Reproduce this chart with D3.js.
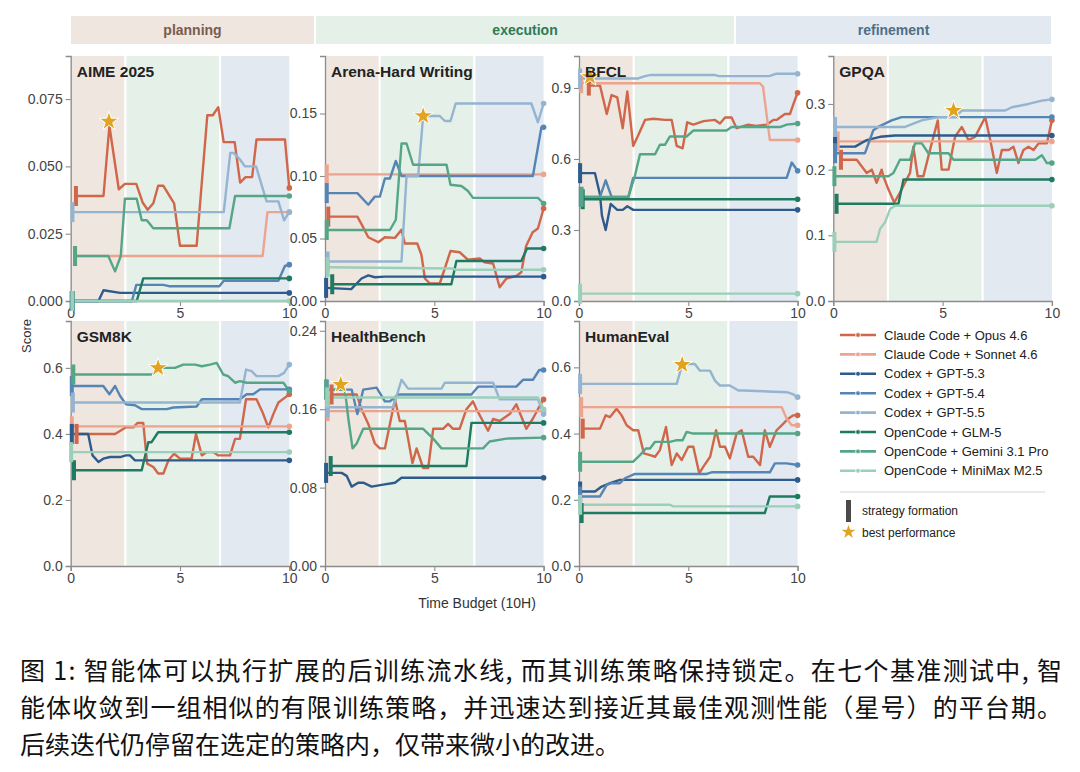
<!DOCTYPE html>
<html>
<head>
<meta charset="utf-8">
<script src="https://cdn.jsdelivr.net/npm/d3@7"></script>
<style>
  body { margin: 0; background: #fff; }
  svg { display: block; font-family: "Liberation Sans", Arial, sans-serif; }
</style>
</head>
<body>
<div id="chart"></div>
<script>
// ---- data ----
var seriesNames = ["Claude Code + Opus 4.6", "Claude Code + Sonnet 4.6", "Codex + GPT-5.3", "Codex + GPT-5.4",
  "Codex + GPT-5.5", "OpenCode + GLM-5", "OpenCode + Gemini 3.1 Pro", "OpenCode + MiniMax M2.5"];
var benchmarks = ["AIME 2025", "Arena-Hard Writing", "BFCL", "GPQA", "GSM8K", "HealthBench", "HumanEval"];
var phaseNames = ["planning", "execution", "refinement"];
var phaseBounds = [0, 2.5, 6.83, 10];
var xTicks = [0, 5, 10];
var yTicks = [[0, 0.025, 0.05, 0.075], [0, 0.05, 0.10, 0.15], [0, 0.3, 0.6, 0.9], [0, 0.1, 0.2, 0.3],
  [0, 0.2, 0.4, 0.6], [0, 0.08, 0.16, 0.24], [0, 0.2, 0.4, 0.6]];
var yMax = [0.091, 0.196, 1.035, 0.373, 0.742, 0.25, 0.74];
var bestX = [1.75, 4.49, 0.5, 5.5, 4.0, 0.72, 4.72];
var bestY = [0.0667, 0.148, 0.947, 0.29, 0.60, 0.185, 0.608];

// each benchmark: one point list per series, in seriesNames order; first point = strategy formation
var aime = [
  [[0.24,0.039],[1.5,0.039],[1.77,0.065],[2.2,0.0415],[2.48,0.0435],[3.0,0.0435],[3.29,0.0366],[3.52,0.0339],[3.78,0.0363],[4.0,0.0428],[4.24,0.0428],[4.73,0.0363],[5.0,0.0205],[5.76,0.0205],[6.25,0.069],[6.5,0.069],[6.75,0.072],[7.0,0.059],[7.5,0.059],[7.75,0.044],[8.0,0.046],[8.3,0.046],[8.5,0.060],[9.8,0.060],[10,0.042]],
  [[0.2,0.0167],[8.78,0.0167],[9.0,0.033],[10,0.033]],
  [[0.05,0],[1.27,0],[1.5,0.004],[2.26,0.003],[10,0.003]],
  [[0.05,0],[2.8,0],[3.0,0.006],[4.24,0.006],[4.5,0.0055],[6.8,0.0055],[7.0,0.0075],[9.5,0.0075],[9.8,0.013],[10,0.0135]],
  [[0.08,0.033],[7.0,0.033],[7.3,0.055],[7.45,0.055],[7.7,0.053],[7.97,0.050],[8.48,0.050],[8.96,0.037],[9.5,0.037],[9.76,0.030],[10,0.033]],
  [[0.1,0],[3.02,0],[3.32,0.0084],[10,0.0084]],
  [[0.2,0.0167],[1.72,0.0167],[2.03,0.011],[2.29,0.0167],[2.48,0.038],[3.02,0.038],[3.25,0.030],[3.48,0.030],[3.78,0.027],[7.26,0.027],[7.52,0.039],[10,0.039]],
  [[0.08,0],[10,0]]
];
var arena = [
  [[0.15,0.0675],[1.48,0.0675],[1.67,0.0615],[1.98,0.051],[2.44,0.047],[2.74,0.051],[3.2,0.0505],[3.5,0.057],[3.65,0.046],[4.22,0.046],[4.41,0.037],[4.57,0.018],[4.8,0.014],[5.25,0.014],[5.48,0.026],[5.74,0.040],[6.16,0.039],[6.54,0.033],[7.08,0.034],[7.3,0.031],[7.69,0.030],[7.99,0.011],[8.3,0.018],[8.75,0.020],[8.98,0.023],[9.2,0.044],[9.5,0.055],[9.74,0.058],[10,0.074]],
  [[0.08,0.1013],[10,0.1013]],
  [[0.05,0.0105],[1.2,0.0095],[1.67,0.018],[1.98,0.0205],[2.28,0.019],[2.74,0.0195],[10,0.0195]],
  [[0.08,0.0863],[1.48,0.0863],[1.98,0.077],[2.28,0.0835],[2.51,0.0835],[2.74,0.098],[2.97,0.098],[3.24,0.112],[3.5,0.100],[9.51,0.100],[9.9,0.139],[10,0.139]],
  [[0.12,0.0316],[3.5,0.0316],[3.73,0.100],[4.26,0.100],[4.49,0.148],[5.25,0.148],[5.48,0.144],[5.74,0.144],[5.98,0.158],[9.44,0.158],[9.74,0.143],[10,0.158]],
  [[0.33,0.0134],[5.78,0.0134],[6.01,0.032],[8.98,0.032],[9.24,0.042],[10,0.042]],
  [[0.08,0.0568],[2.97,0.0568],[3.24,0.065],[3.5,0.126],[3.73,0.126],[4.03,0.109],[5.56,0.109],[5.74,0.093],[6.24,0.092],[6.54,0.088],[6.77,0.0825],[9.74,0.0825],[10,0.078]],
  [[0.12,0.027],[5.8,0.026],[6.0,0.025],[10,0.025]]
];
var bfcl = [
  [[0.45,0.91],[0.96,0.91],[1.27,0.79],[1.49,0.87],[1.75,0.86],[2.0,0.73],[2.21,0.885],[2.48,0.655],[2.71,0.70],[3.02,0.765],[3.4,0.77],[3.93,0.765],[4.24,0.765],[4.47,0.655],[4.74,0.645],[4.95,0.755],[5.23,0.745],[5.7,0.76],[6.22,0.765],[6.45,0.75],[6.68,0.775],[6.98,0.775],[7.21,0.73],[7.74,0.745],[8.1,0.74],[8.58,0.745],[8.89,0.765],[9.04,0.765],[9.42,0.79],[9.65,0.79],[9.8,0.83],[10,0.88]],
  [[0.1,0.92],[8.27,0.92],[8.42,0.905],[8.73,0.68],[10,0.68]],
  [[0.05,0.54],[0.73,0.54],[0.96,0.45],[1.05,0.36],[1.22,0.30],[1.45,0.41],[1.75,0.385],[2.0,0.385],[2.21,0.40],[2.48,0.385],[10,0.385]],
  [[0.08,0.44],[0.96,0.44],[1.22,0.51],[1.49,0.44],[2.26,0.44],[2.48,0.52],[9.5,0.52],[9.73,0.585],[10,0.55]],
  [[0.05,0.94],[2.71,0.94],[3.02,0.95],[3.3,0.955],[6.2,0.955],[6.4,0.95],[8.7,0.95],[9.0,0.96],[10,0.96]],
  [[0.17,0.43],[10,0.43]],
  [[0.12,0.44],[2.26,0.44],[2.56,0.53],[2.79,0.62],[3.48,0.62],[3.7,0.66],[3.93,0.66],[4.16,0.695],[4.92,0.695],[5.23,0.72],[6.75,0.72],[6.98,0.735],[9.2,0.735],[9.5,0.745],[10,0.75]],
  [[0.05,0.031],[10,0.031]]
];
var gpqa = [
  [[0.35,0.215],[1.07,0.215],[1.53,0.195],[1.76,0.20],[1.98,0.18],[2.21,0.20],[2.29,0.19],[2.52,0.17],[2.79,0.15],[3.05,0.165],[3.28,0.18],[3.51,0.195],[3.66,0.235],[3.86,0.19],[4.12,0.19],[4.5,0.24],[4.78,0.275],[4.96,0.20],[5.27,0.20],[5.57,0.25],[5.88,0.265],[6.18,0.245],[6.49,0.25],[6.95,0.28],[7.18,0.245],[7.48,0.195],[7.71,0.23],[8.02,0.23],[8.24,0.235],[8.47,0.21],[8.7,0.23],[8.93,0.235],[9.16,0.23],[9.39,0.24],[9.77,0.24],[10,0.275]],
  [[0.2,0.243],[10,0.243]],
  [[0.08,0.235],[1.0,0.235],[1.53,0.245],[2.14,0.25],[2.82,0.252],[10,0.252]],
  [[0.08,0.225],[1.45,0.225],[1.83,0.26],[2.06,0.265],[2.67,0.275],[3.13,0.28],[10,0.28]],
  [[0.08,0.265],[2.52,0.265],[3.28,0.265],[3.66,0.27],[4.05,0.275],[4.8,0.28],[5.57,0.28],[5.88,0.29],[7.86,0.29],[8.17,0.295],[8.93,0.30],[9.54,0.305],[10,0.307]],
  [[0.15,0.148],[2.98,0.148],[3.21,0.185],[10,0.185]],
  [[0.05,0.19],[2.52,0.19],[2.75,0.195],[3.05,0.215],[3.51,0.215],[3.74,0.24],[4.05,0.24],[4.35,0.225],[5.27,0.225],[5.5,0.215],[9.24,0.215],[9.54,0.222],[9.77,0.21],[10,0.21]],
  [[0.05,0.09],[1.98,0.09],[2.14,0.11],[2.37,0.12],[2.6,0.14],[2.82,0.145],[10,0.145]]
];
var gsm8k = [
  [[0.27,0.40],[2.03,0.40],[2.53,0.42],[2.87,0.42],[3.05,0.433],[3.32,0.433],[3.5,0.31],[3.78,0.30],[4.0,0.28],[4.24,0.28],[4.47,0.32],[4.73,0.34],[5.0,0.325],[5.53,0.325],[5.73,0.40],[6.0,0.335],[6.22,0.345],[6.52,0.345],[6.75,0.335],[7.29,0.335],[7.52,0.385],[7.74,0.385],[8.02,0.505],[8.5,0.505],[8.78,0.465],[9.04,0.42],[9.27,0.46],[9.5,0.495],[9.8,0.51],[10,0.52]],
  [[0.05,0.423],[10,0.423]],
  [[0.05,0.40],[0.8,0.40],[1.0,0.335],[1.27,0.315],[1.49,0.325],[1.8,0.33],[2.26,0.33],[2.53,0.335],[2.71,0.335],[2.94,0.32],[10,0.32]],
  [[0.05,0.545],[1.49,0.545],[1.77,0.52],[2.03,0.545],[2.26,0.515],[2.53,0.49],[2.94,0.487],[3.25,0.475],[4.39,0.475],[4.7,0.48],[5.76,0.483],[6.0,0.505],[7.74,0.505],[8.05,0.52],[8.35,0.52],[8.66,0.535],[10,0.535]],
  [[0.1,0.495],[7.74,0.495],[8.02,0.595],[8.28,0.59],[8.5,0.575],[9.5,0.575],[9.76,0.585],[10,0.61]],
  [[0.15,0.29],[3.25,0.29],[3.55,0.375],[3.7,0.375],[4.0,0.405],[10,0.405]],
  [[0.12,0.58],[3.75,0.58],[4.0,0.60],[4.39,0.60],[4.77,0.60],[5.15,0.61],[5.69,0.61],[6.0,0.605],[6.37,0.61],[6.68,0.615],[6.98,0.58],[7.2,0.575],[7.52,0.555],[7.74,0.56],[8.05,0.555],[9.73,0.555],[10,0.53]],
  [[0.02,0.345],[10,0.345]]
];
var health = [
  [[0.3,0.175],[1.45,0.175],[1.67,0.16],[1.98,0.145],[2.28,0.125],[2.51,0.12],[2.74,0.12],[2.97,0.145],[3.2,0.17],[3.42,0.148],[3.65,0.148],[3.8,0.13],[4.0,0.105],[4.19,0.12],[4.49,0.10],[4.72,0.10],[4.95,0.14],[5.4,0.14],[5.63,0.145],[5.86,0.14],[6.16,0.14],[6.47,0.16],[6.77,0.168],[6.93,0.16],[7.46,0.138],[7.69,0.15],[7.99,0.148],[8.45,0.155],[8.75,0.165],[9.21,0.14],[9.5,0.15],[9.74,0.16],[10,0.17]],
  [[0.12,0.158],[10,0.158]],
  [[0.05,0.095],[0.76,0.095],[0.99,0.092],[1.22,0.081],[1.52,0.085],[1.75,0.085],[2.13,0.081],[2.66,0.083],[3.2,0.085],[3.5,0.09],[10,0.09]],
  [[0.08,0.18],[1.22,0.18],[1.48,0.155],[1.75,0.18],[2.36,0.182],[2.74,0.168],[2.97,0.168],[3.35,0.175],[6.7,0.175],[7.0,0.183],[8.75,0.183],[9.06,0.19],[9.51,0.19],[9.8,0.20],[10,0.20]],
  [[0.12,0.162],[3.12,0.162],[3.5,0.19],[3.8,0.181],[5.33,0.181],[5.48,0.187],[7.69,0.187],[7.99,0.17],[9.74,0.17],[10,0.155]],
  [[0.26,0.102],[6.47,0.102],[6.7,0.146],[10,0.146]],
  [[0.05,0.18],[0.91,0.18],[1.07,0.15],[1.26,0.12],[1.45,0.125],[1.75,0.14],[4.49,0.14],[4.95,0.13],[5.33,0.12],[7.23,0.12],[7.53,0.127],[8.3,0.13],[10,0.131]],
  [[0.1,0.172],[9.74,0.172],[10,0.16]]
];
var humaneval = [
  [[0.17,0.415],[0.96,0.415],[1.22,0.455],[1.42,0.45],[1.72,0.475],[1.95,0.455],[2.18,0.425],[2.48,0.41],[2.71,0.41],[2.97,0.34],[3.25,0.335],[3.48,0.33],[3.7,0.35],[3.98,0.42],[4.24,0.305],[4.47,0.34],[4.7,0.32],[5.0,0.36],[5.23,0.36],[5.5,0.28],[5.69,0.30],[6.0,0.33],[6.27,0.41],[6.45,0.36],[6.68,0.36],[6.9,0.325],[7.21,0.40],[7.44,0.41],[7.74,0.33],[7.97,0.33],[8.28,0.305],[8.5,0.41],[8.73,0.36],[9.04,0.41],[9.27,0.425],[9.57,0.445],[9.8,0.455],[10,0.455]],
  [[0.1,0.48],[9.27,0.48],[9.5,0.445],[9.73,0.425],[10,0.425]],
  [[0.05,0.225],[0.73,0.225],[1.04,0.24],[1.42,0.25],[1.87,0.26],[10,0.26]],
  [[0.05,0.21],[0.96,0.21],[1.27,0.245],[1.5,0.25],[1.87,0.25],[2.1,0.265],[2.56,0.278],[5.84,0.278],[6.07,0.283],[8.73,0.283],[8.96,0.31],[9.5,0.31],[10,0.305]],
  [[0.05,0.55],[4.47,0.55],[4.72,0.608],[4.92,0.61],[5.3,0.61],[5.53,0.59],[5.99,0.59],[6.22,0.56],[6.45,0.545],[6.9,0.545],[7.29,0.53],[7.52,0.53],[9.5,0.525],[9.75,0.52],[10,0.51]],
  [[0.12,0.16],[8.5,0.16],[8.73,0.21],[10,0.21]],
  [[0.05,0.315],[2.48,0.315],[2.79,0.335],[3.06,0.355],[3.25,0.355],[3.48,0.375],[4.16,0.375],[4.47,0.38],[4.74,0.38],[4.92,0.405],[5.23,0.40],[8.9,0.40],[10,0.40]],
  [[0.05,0.185],[4.16,0.185],[4.31,0.18],[10,0.18]]
];
var panelData = [aime, arena, bfcl, gpqa, gsm8k, health, humaneval];

var caption = ["图 1: 智能体可以执行扩展的后训练流水线, 而其训练策略保持锁定。在七个基准测试中, 智",
  "能体收敛到一组相似的有限训练策略，并迅速达到接近其最佳观测性能（星号）的平台期。",
  "后续迭代仍停留在选定的策略内，仅带来微小的改进。"];

// ---- styles / layout ----
var colors = ["#d0664a", "#eca48f", "#2d5b8c", "#5585b5", "#95b4d0", "#1f7a62", "#55a687", "#9bcfba"];
var phaseFill = ["#efe6df", "#e4f0e8", "#e2e9f1"];
var phaseText = ["#7b5b50", "#2f7a57", "#4d6f88"];
var colX = [70.7, 325, 579, 833.3];
var rowY = [56, 321];
var pw = 218.6, ph = 245;

var svg = d3.select("#chart").append("svg")
  .attr("width", 1080).attr("height", 772);

// phase header
var hx = d3.scaleLinear().domain([0, 1]).range([71, 1051]);
var headerCuts = [0, 0.2490, 0.6776, 1];
phaseNames.forEach(function(p, i){
  var x0 = hx(headerCuts[i]) + (i > 0 ? 1 : 0), x1 = hx(headerCuts[i + 1]) - (i < 2 ? 1 : 0);
  svg.append("rect").attr("x", x0).attr("y", 16).attr("width", x1 - x0).attr("height", 28)
    .attr("fill", phaseFill[i]);
  svg.append("text").attr("x", (x0 + x1) / 2).attr("y", 35).attr("text-anchor", "middle")
    .attr("font-size", 14).attr("font-weight", "bold").attr("fill", phaseText[i]).text(p);
});

var line = d3.line().x(function(d){ return d[0]; }).y(function(d){ return d[1]; });

benchmarks.forEach(function(name, k){
  var g = svg.append("g")
    .attr("transform", "translate(" + colX[k % 4] + "," + rowY[Math.floor(k / 4)] + ")");
  var x = d3.scaleLinear().domain([0, 10]).range([0, pw]);
  var y = d3.scaleLinear().domain([0, yMax[k]]).range([ph, 0]);

  // phase backgrounds
  for (var i = 0; i < 3; i++) {
    g.append("rect").attr("x", x(phaseBounds[i])).attr("y", 0)
      .attr("width", x(phaseBounds[i + 1]) - x(phaseBounds[i])).attr("height", ph)
      .attr("fill", phaseFill[i]);
  }
  [phaseBounds[1], phaseBounds[2]].forEach(function(b){
    g.append("line").attr("x1", x(b)).attr("x2", x(b)).attr("y1", 0).attr("y2", ph)
      .attr("stroke", "#fff").attr("stroke-width", 2.2);
  });

  // axes
  var ya = g.append("g").call(d3.axisLeft(y).tickValues(yTicks[k])
    .tickFormat(d3.format(k == 0 ? ".3f" : (k == 1 || k == 5) ? ".2f" : ".1f")).tickSize(5).tickPadding(3));
  var xa = g.append("g").attr("transform", "translate(0," + ph + ")")
    .call(d3.axisBottom(x).tickValues(xTicks).tickFormat(d3.format("d")).tickSize(5).tickPadding(2));
  [ya, xa].forEach(function(a){
    a.select(".domain").attr("stroke", "#8c8c8c").attr("stroke-width", 1.3);
    a.selectAll(".tick line").attr("stroke", "#8c8c8c").attr("stroke-width", 1.1);
    a.selectAll(".tick text").attr("fill", "#444").attr("font-size", 14)
      .attr("font-family", "Liberation Sans, Arial, sans-serif");
  });

  // series lines
  panelData[k].forEach(function(pts, s){
    var xy = pts.map(function(p){ return [x(p[0]), y(p[1])]; });
    g.append("path").attr("d", line(xy)).attr("fill", "none")
      .attr("stroke", colors[s]).attr("stroke-width", 2.4)
      .attr("stroke-linejoin", "round").attr("stroke-linecap", "round");
  });
  // strategy formation bars + end dots
  panelData[k].forEach(function(pts, s){
    var first = pts[0], last = pts[pts.length - 1];
    g.append("rect").attr("x", x(first[0]) - 2).attr("y", y(first[1]) - 10)
      .attr("width", 4).attr("height", 20).attr("fill", colors[s]);
    g.append("circle").attr("cx", x(last[0])).attr("cy", y(last[1])).attr("r", 2.8)
      .attr("fill", colors[s]);
  });

  // best performance
  g.append("path").attr("d", d3.symbol().type(d3.symbolStar).size(120)())
    .attr("transform", "translate(" + x(bestX[k]) + "," + y(bestY[k]) + ")")
    .attr("fill", "#e2a31f").attr("stroke", "#fff").attr("stroke-width", 1);

  g.append("text").attr("x", 6).attr("y", 21).attr("font-size", 15.5).attr("font-weight", "bold")
    .attr("fill", "#222").text(name);
});

// axis titles
svg.append("text").attr("transform", "translate(31,336) rotate(-90)").attr("text-anchor", "middle")
  .attr("font-size", 13).attr("fill", "#333").text("Score");
svg.append("text").attr("x", 477).attr("y", 608).attr("text-anchor", "middle")
  .attr("font-size", 14).attr("fill", "#333").text("Time Budget (10H)");

// legend
var lg = svg.append("g").attr("transform", "translate(840,335)");
seriesNames.forEach(function(n, i){
  var yy = i * 19.4;
  lg.append("line").attr("x1", 0).attr("x2", 36).attr("y1", yy).attr("y2", yy)
    .attr("stroke", colors[i]).attr("stroke-width", 2.6);
  lg.append("circle").attr("cx", 18).attr("cy", yy).attr("r", 2.4)
    .attr("fill", colors[i]).attr("stroke", "#fff").attr("stroke-width", 0.8);
  lg.append("text").attr("x", 44).attr("y", yy + 4.5).attr("font-size", 13)
    .attr("fill", "#222").text(n);
});
lg.append("line").attr("x1", 0).attr("x2", 205).attr("y1", 157).attr("y2", 157)
  .attr("stroke", "#d6d6d6").attr("stroke-width", 1);
lg.append("rect").attr("x", 6).attr("y", 165).attr("width", 5).attr("height", 22).attr("fill", "#4a4a4a");
lg.append("text").attr("x", 22).attr("y", 180).attr("font-size", 12).attr("fill", "#222").text("strategy formation");
lg.append("path").attr("d", d3.symbol().type(d3.symbolStar).size(60)())
  .attr("transform", "translate(8.5,197)").attr("fill", "#e2a31f");
lg.append("text").attr("x", 22).attr("y", 201.5).attr("font-size", 12).attr("fill", "#222").text("best performance");

// caption
caption.forEach(function(c, i){
  var t = svg.append("text").attr("x", 20).attr("y", 680 + i * 37)
    .attr("font-family", "Noto Sans CJK SC, sans-serif").attr("font-size", 25)
    .attr("fill", "#111").text(c);
  if (i < 2) t.attr("textLength", 1042).attr("lengthAdjust", "spacing");
});
</script>
</body>
</html>
